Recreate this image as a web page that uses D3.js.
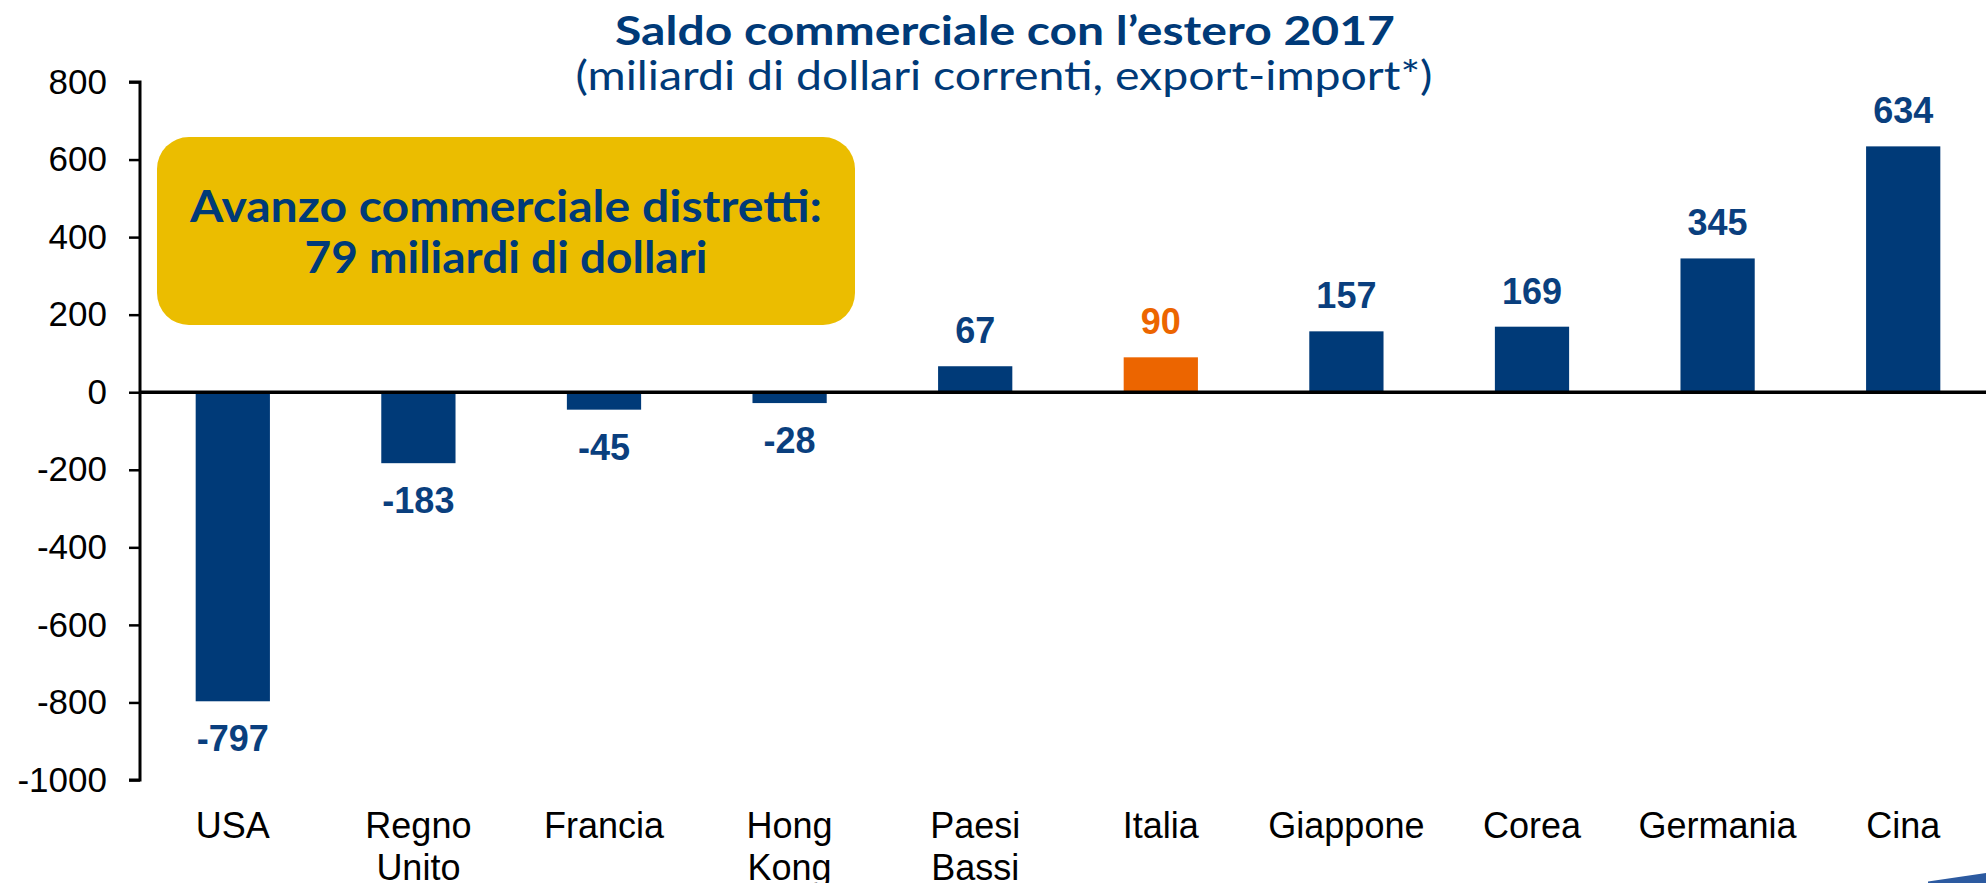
<!DOCTYPE html>
<html>
<head>
<meta charset="utf-8">
<script src="https://cdn.jsdelivr.net/npm/d3@7"></script>
<style>
  html, body { margin: 0; padding: 0; background: #ffffff; }
  svg { display: block; }
</style>
</head>
<body>
<svg id="chart" width="1986" height="883"></svg>
<script>
const categories = ["USA", "Regno\nUnito", "Francia", "Hong\nKong", "Paesi\nBassi", "Italia", "Giappone", "Corea", "Germania", "Cina"];
const values = [-797, -183, -45, -28, 67, 90, 157, 169, 345, 634];
const highlight = ["Italia"];
const yTicks = [800, 600, 400, 200, 0, -200, -400, -600, -800, -1000];
const titleText = "Saldo commerciale con l\u2019estero 2017";
const subtitleText = "(miliardi di dollari correnti, export-import*)";
const boxLines = ["Avanzo commerciale distretti:", "79 miliardi di dollari"];

(function () {
const BLUE = "#003a78";
const ORANGE = "#ec6500";
const YELLOW = "#ebbd00";

const svg = d3.select("#chart");
const W = 1986;
const mLeft = 140, mRight = 1996, mTop = 82, mBottom = 780;

const x = d3.scaleBand().domain(categories).range([mLeft, mRight]).paddingInner(0.6).paddingOuter(0.3);
const y = d3.scaleLinear().domain([-1000, 800]).range([mBottom, mTop]);

const data = categories.map((c, i) => ({ cat: c, v: values[i] }));
const isHi = d => highlight.includes(d.cat);

// Title
svg.append("text").attr("x", 1005).attr("y", 45).attr("text-anchor", "middle")
  .attr("font-family", "Lato, 'Open Sans', sans-serif").attr("font-weight", 700)
  .attr("font-size", 40).attr("fill", BLUE)
  .attr("textLength", 780).attr("lengthAdjust", "spacingAndGlyphs")
  .text(titleText);
svg.append("text").attr("x", 1004).attr("y", 90).attr("text-anchor", "middle")
  .attr("font-family", "Lato, 'Open Sans', sans-serif").attr("font-weight", 400)
  .attr("font-size", 40).attr("fill", BLUE)
  .attr("textLength", 857).attr("lengthAdjust", "spacingAndGlyphs")
  .text(subtitleText);

// Bars
svg.append("g").selectAll("rect").data(data).join("rect")
  .attr("x", d => x(d.cat))
  .attr("width", x.bandwidth())
  .attr("y", d => y(Math.max(0, d.v)))
  .attr("height", d => Math.abs(y(d.v) - y(0)))
  .attr("fill", d => isHi(d) ? ORANGE : BLUE);

// Value labels
svg.append("g").selectAll("text").data(data).join("text")
  .attr("x", d => x(d.cat) + x.bandwidth() / 2)
  .attr("y", d => d.v >= 0 ? y(d.v) - 23 : y(d.v) + 50)
  .attr("text-anchor", "middle")
  .attr("font-family", "'Liberation Sans', Arial, sans-serif")
  .attr("font-weight", 700).attr("font-size", 36)
  .attr("fill", d => isHi(d) ? ORANGE : "#0a3f7e")
  .text(d => String(d.v));

// Y axis
const yAxis = d3.axisLeft(y).tickValues(yTicks).tickSize(11).tickPadding(22).tickFormat(d => String(d));
const gy = svg.append("g").attr("transform", `translate(${mLeft},0)`).call(yAxis);
gy.select(".domain").attr("stroke", "#000").attr("stroke-width", 3)
  .attr("d", `M-11,${y(800)}H0V${y(-1000)}H-11`);
gy.selectAll(".tick line").attr("stroke", "#000").attr("stroke-width", 2.5);
gy.selectAll(".tick text").attr("font-family", "'Liberation Sans', Arial, sans-serif")
  .attr("font-size", 35).attr("fill", "#000");

// Zero line
svg.append("line").attr("x1", mLeft).attr("x2", W).attr("y1", y(0)).attr("y2", y(0))
  .attr("stroke", "#000").attr("stroke-width", 3.5);

// Category labels
const cl = svg.append("g").selectAll("text").data(data).join("text")
  .attr("x", d => x(d.cat) + x.bandwidth() / 2)
  .attr("y", 838)
  .attr("text-anchor", "middle")
  .attr("font-family", "'Liberation Sans', Arial, sans-serif")
  .attr("font-size", 36).attr("fill", "#000");
cl.each(function(d) {
  const lines = d.cat.split("\n");
  d3.select(this).selectAll("tspan").data(lines).join("tspan")
    .attr("x", x(d.cat) + x.bandwidth() / 2)
    .attr("dy", (l, i) => i === 0 ? 0 : 42)
    .text(l => l);
});

// Annotation box
const bx = 157, by = 137, bw = 698, bh = 188;
svg.append("rect").attr("x", bx).attr("y", by).attr("width", bw).attr("height", bh)
  .attr("rx", 32).attr("ry", 32).attr("fill", YELLOW);
svg.append("text").attr("x", bx + bw / 2).attr("y", 222).attr("text-anchor", "middle")
  .attr("font-family", "Lato, 'Open Sans', sans-serif").attr("font-weight", 700)
  .attr("font-size", 44).attr("fill", BLUE)
  .attr("textLength", 632).attr("lengthAdjust", "spacingAndGlyphs")
  .text(boxLines[0]);
svg.append("text").attr("x", bx + bw / 2).attr("y", 273).attr("text-anchor", "middle")
  .attr("font-family", "Lato, 'Open Sans', sans-serif").attr("font-weight", 700)
  .attr("font-size", 44).attr("fill", BLUE)
  .attr("textLength", 403).attr("lengthAdjust", "spacingAndGlyphs")
  .text(boxLines[1]);

// Corner decoration
svg.append("path").attr("d", "M1928,883L1928,881.5L1986,873L1986,883Z").attr("fill", "#2c5aa0");
})();
</script>
</body>
</html>
